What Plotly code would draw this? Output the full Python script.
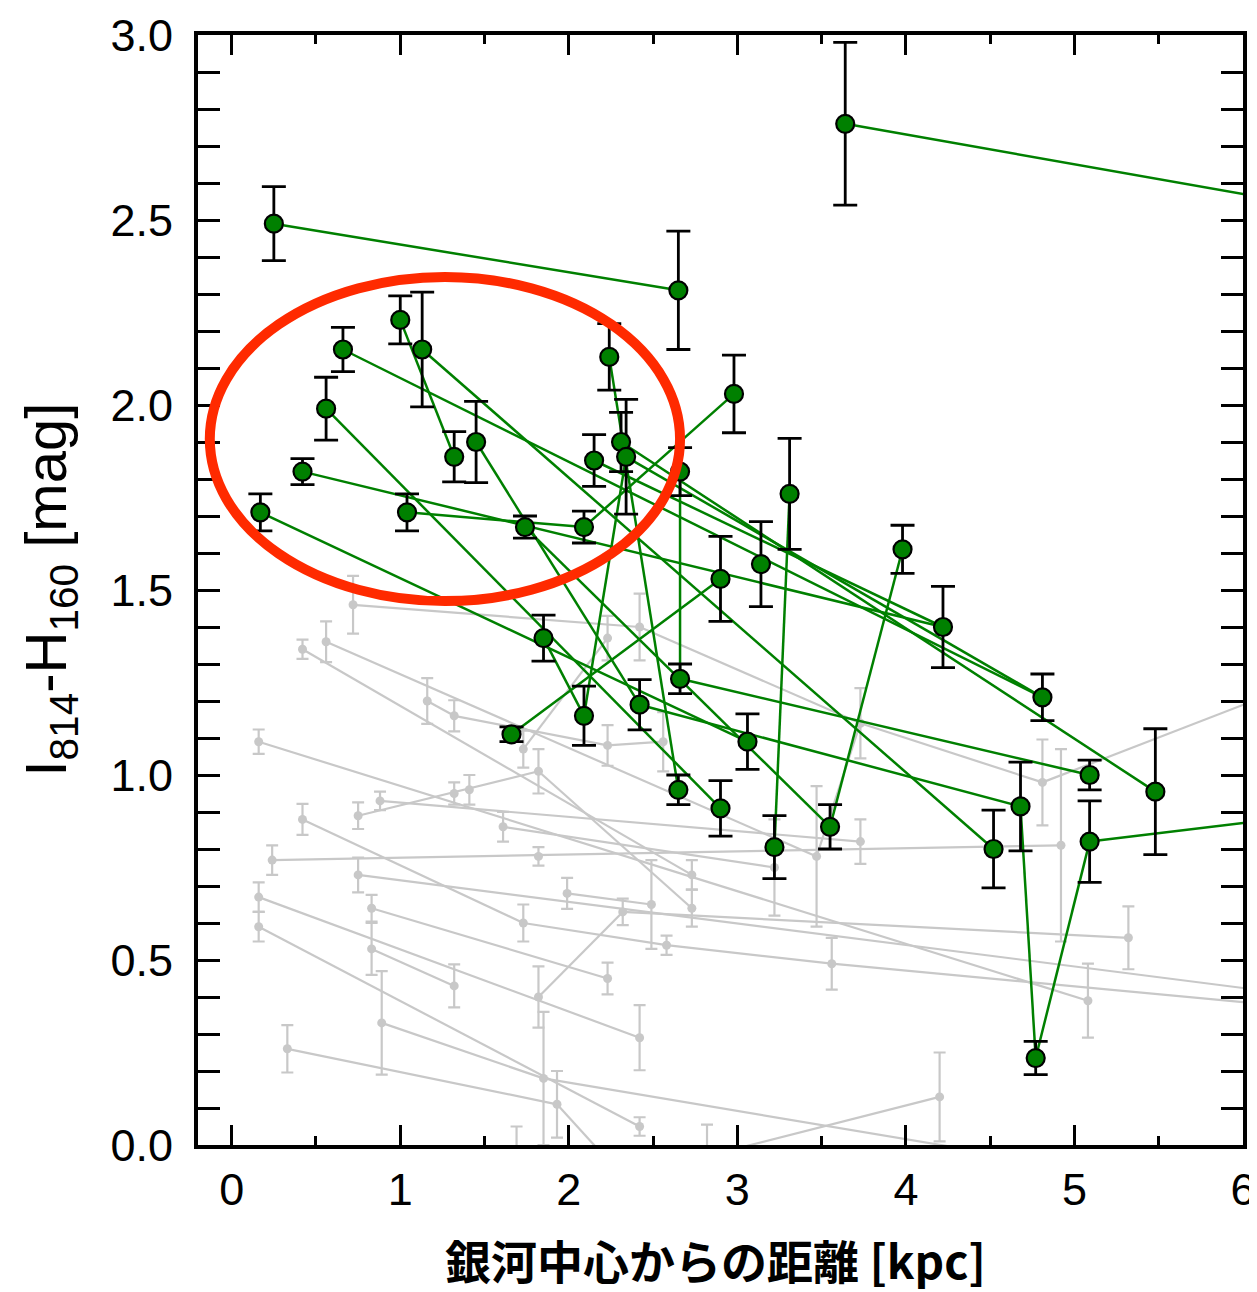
import plotly.graph_objects as go

# ---------------- data ----------------
# highlighted (green) sample: distance [kpc], colour [mag], error [mag]
green_x = [0.25, 2.65, 3.64, 0.17, 0.42, 0.56, 0.66, 1.00, 1.04, 1.13,
           1.32, 1.45, 1.66, 1.74, 1.85, 2.09, 2.09, 2.15, 2.24, 2.31,
           2.34, 2.42, 2.66, 2.66, 2.65, 2.90, 2.90, 2.98, 3.06, 3.14,
           3.22, 3.31, 3.55, 3.98, 4.22, 4.52, 4.68, 4.77, 4.81, 5.09,
           5.09, 5.48]
green_y = [2.49, 2.31, 2.76, 1.71, 1.82, 1.99, 2.15, 2.23, 1.71, 2.15,
           1.86, 1.90, 1.11, 1.67, 1.37, 1.67, 1.16, 1.85, 2.13, 1.90,
           1.86, 1.19, 1.82, 1.26, 0.96, 1.53, 0.91, 2.03, 1.09, 1.57,
           0.805, 1.76, 0.86, 1.61, 1.40, 0.80, 0.915, 0.235, 1.21, 1.00,
           0.82, 0.955]
green_err = [0.10, 0.16, 0.22, 0.05, 0.035, 0.085, 0.06, 0.065, 0.05, 0.155,
             0.068, 0.11, 0.02, 0.03, 0.062, 0.043, 0.08, 0.07, 0.09, 0.08,
             0.155, 0.068, 0.065, 0.04, 0.04, 0.115, 0.075, 0.105, 0.075, 0.115,
             0.085, 0.15, 0.06, 0.065, 0.11, 0.105, 0.12, 0.045, 0.063, 0.04,
             0.11, 0.17]
# end points lying outside the plotted window
green_end_x = [6.4, 6.4]
green_end_y = [2.538, 0.892]
green_links = [(1, 2), (3, "a"), (4, 29), (5, 35), (6, 27), (7, 39), (8, 11),
               (9, 16), (10, 36), (12, 22), (14, 33), (13, 26), (15, 17),
               (16, 28), (19, 25), (21, 17), (18, 35), (21, 39), (20, 42),
               (22, 37), (23, 24), (24, 40), (31, 32), (33, 34), (37, 38),
               (38, 41), (41, "b")]

# comparison (grey) sample
grey_x = [0.72, 0.56, 0.42, 1.16, 1.32, 2.23, 2.42, 1.73, 1.82, 2.23,
          2.56, 0.16, 0.75, 0.88, 1.32, 1.41, 0.42, 1.61, 0.24, 0.75,
          1.82, 0.16, 0.16, 0.83, 0.83, 1.32, 1.73, 1.99, 2.32, 2.49,
          2.58, 2.73, 2.73, 2.23, 1.82, 2.42, 0.33, 0.89, 1.85, 1.93,
          2.42, 4.81, 4.92, 3.73, 3.47, 3.22, 3.73, 5.32, 3.56, 5.08,
          4.20, 2.82, 1.69]
grey_y = [1.46, 1.36, 1.34, 1.20, 1.16, 1.37, 1.40, 1.07, 1.01, 1.08,
          1.09, 1.09, 0.89, 0.93, 0.95, 0.96, 0.88, 0.86, 0.77, 0.73,
          0.78, 0.67, 0.59, 0.64, 0.53, 0.43, 0.60, 0.68, 0.63, 0.65,
          0.54, 0.73, 0.64, 0.45, 0.40, 0.29, 0.26, 0.33, 0.18, 0.11,
          0.05, 0.98, 0.81, 1.14, 0.78, 0.75, 0.82, 0.56, 0.49, 0.39,
          0.13, -0.03, -0.06]
grey_err = [0.078, 0.055, 0.026, 0.062, 0.042, 0.06, 0.09, 0.05, 0.06, 0.055,
            0.08, 0.033, 0.036, 0.025, 0.03, 0.04, 0.042, 0.04, 0.04, 0.047,
            0.025, 0.04, 0.04, 0.036, 0.07, 0.058, 0.05, 0.042, 0.036, 0.12,
            0.026, 0.04, 0.05, 0.043, 0.083, 0.088, 0.064, 0.14, 0.18, 0.09,
            0.025, 0.116, 0.26, 0.095, 0.19, 0.13, 0.06, 0.085, 0.07, 0.10,
            0.12, 0.085, 0.11]
grey_end_x = [6.4, 6.4, 6.4, 2.45, 4.6]
grey_end_y = [1.26, 0.401, 0.369, -0.15, -0.03]
grey_links = [(1, 7), (7, 44), (44, 42), (42, "a"), (8, 6), (3, 32), (2, 45),
              (45, 44), (4, 5), (5, 10), (10, 11), (12, 50), (13, 9), (9, 33),
              (14, 47), (17, 27), (27, 31), (31, 49), (49, "c"), (18, 46),
              (19, 43), (20, "b"), (22, 36), (23, 41), (24, 34), (25, 26),
              (37, 40), (40, "d"), (38, 39), (39, "e"), (35, 29), (28, 30),
              (29, 48), (52, 51)]

x_ticks = [0, 1, 2, 3, 4, 5, 6]
y_ticks = [0.0, 0.5, 1.0, 1.5, 2.0, 2.5, 3.0]
y_tick_text = ["0.0", "0.5", "1.0", "1.5", "2.0", "2.5", "3.0"]

x_title = "<b>銀河中心からの距離 [kpc]</b>"
y_title = "I<sub>814</sub>-H<sub>160</sub> [mag]"


def build_lines(links, xs, ys, ex, ey):
    lx, ly = [], []
    for a, b in links:
        for k in (a, b):
            if isinstance(k, int):
                lx.append(xs[k - 1]); ly.append(ys[k - 1])
            else:
                i = "abcde".index(k)
                lx.append(ex[i]); ly.append(ey[i])
        lx.append(None); ly.append(None)
    return lx, ly


GREY = "#c8c8c8"
GREEN = "#008000"

fig = go.Figure()

gx, gy = build_lines(grey_links, grey_x, grey_y, grey_end_x, grey_end_y)
fig.add_trace(go.Scatter(x=gx, y=gy, mode="lines",
                         line=dict(color=GREY, width=2.2), hoverinfo="skip"))
fig.add_trace(go.Scatter(x=grey_x, y=grey_y, mode="markers",
                         marker=dict(color=GREY, size=9),
                         error_y=dict(type="data", array=grey_err, color=GREY,
                                      thickness=2.2, width=6)))

lx, ly = build_lines(green_links, green_x, green_y, green_end_x, green_end_y)
fig.add_trace(go.Scatter(x=lx, y=ly, mode="lines",
                         line=dict(color=GREEN, width=2.5), hoverinfo="skip"))
fig.add_trace(go.Scatter(x=green_x, y=green_y, mode="markers",
                         marker=dict(color=GREEN, size=18,
                                     line=dict(color="black", width=2.2)),
                         error_y=dict(type="data", array=green_err, color="black",
                                      thickness=2.8, width=12)))

# red ellipse highlighting the central region
fig.add_shape(type="circle", xref="x", yref="y",
              x0=-0.13, x1=2.66, y0=1.47, y1=2.346,
              line=dict(color="#ff2a00", width=10), layer="above")

tickfont = dict(family="Liberation Sans, Arial, sans-serif", size=45, color="black")

fig.update_xaxes(range=[-0.2, 6.0], showgrid=False, zeroline=False, automargin=False,
                 showline=True, linewidth=4, linecolor="black", mirror="ticks",
                 ticks="inside", ticklen=20, tickwidth=3, tickcolor="black",
                 tickvals=x_ticks, ticktext=[str(v) for v in x_ticks],
                 tickfont=tickfont, ticklabelstandoff=2,
                 minor=dict(dtick=0.5, ticks="inside", ticklen=9, tickwidth=3,
                            tickcolor="black", showgrid=False))
fig.update_yaxes(range=[0, 3.0], showgrid=False, zeroline=False, automargin=False,
                 showline=True, linewidth=4, linecolor="black", mirror="ticks",
                 ticks="inside", ticklen=22, tickwidth=3, tickcolor="black",
                 tickvals=y_ticks, ticktext=y_tick_text,
                 tickfont=tickfont, ticklabelstandoff=12,
                 minor=dict(dtick=0.1, ticks="inside", ticklen=22, tickwidth=3,
                            tickcolor="black", showgrid=False))

fig.add_annotation(text=x_title, xref="paper", yref="paper", x=0.495, y=-0.103,
                   xanchor="center", yanchor="middle", showarrow=False,
                   font=dict(family="Noto Sans CJK JP, Liberation Sans, sans-serif",
                             size=46, color="black"))
fig.add_annotation(text=y_title, xref="paper", yref="paper", x=-0.142, y=0.5,
                   xanchor="center", yanchor="middle", showarrow=False,
                   textangle=-90,
                   font=dict(family="Liberation Sans, Arial, sans-serif",
                             size=58, color="black"))

# the page body adds an 8 px offset, so the figure is sized to compensate
fig.update_layout(width=1249, height=1284, showlegend=False,
                  plot_bgcolor="white", paper_bgcolor="white",
                  margin=dict(l=190, r=14, t=27, b=147))

fig.write_html("out.html")
